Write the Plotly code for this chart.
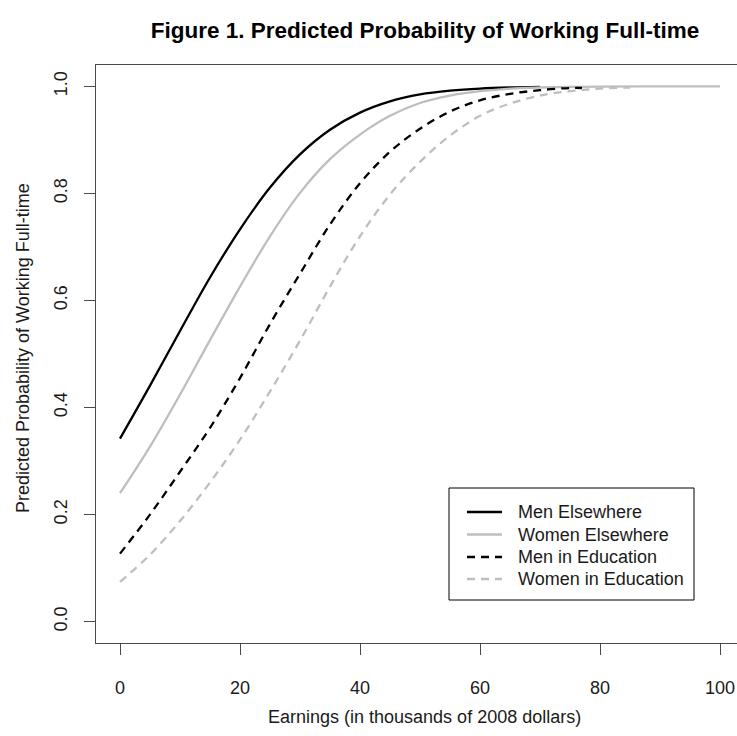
import plotly.graph_objects as go

# Earnings (thousands of 2008 dollars) and predicted probabilities
x_men_else = [0, 5, 10, 15, 20, 25, 30, 35, 40, 45, 50, 55, 60, 65, 70]
y_men_else = [0.342, 0.441, 0.543, 0.643, 0.733, 0.811, 0.873, 0.919, 0.951, 0.972,
              0.985, 0.992, 0.996, 0.998, 0.999]

x_women_else = [0, 5, 10, 15, 20, 25, 30, 35, 40, 45, 50, 55, 60, 65, 70, 75, 80, 90, 100]
y_women_else = [0.240, 0.327, 0.424, 0.526, 0.626, 0.720, 0.801, 0.864, 0.910, 0.945,
                0.969, 0.983, 0.991, 0.996, 0.998, 0.999, 0.9995, 1.0, 1.0]

x_men_edu = [0, 5, 10, 15, 20, 25, 30, 35, 40, 45, 50, 55, 60, 65, 70, 75, 77]
y_men_edu = [0.127, 0.200, 0.280, 0.362, 0.455, 0.556, 0.650, 0.742, 0.819, 0.878,
             0.921, 0.953, 0.974, 0.986, 0.993, 0.997, 0.997]

x_women_edu = [0, 5, 10, 15, 20, 25, 30, 35, 40, 45, 50, 55, 60, 65, 70, 75, 80, 85]
y_women_edu = [0.074, 0.125, 0.188, 0.260, 0.340, 0.430, 0.525, 0.626, 0.720, 0.798,
               0.859, 0.908, 0.945, 0.968, 0.983, 0.991, 0.996, 0.998]

series_names = ["Men Elsewhere", "Women Elsewhere", "Men in Education", "Women in Education"]
series_colors = ["#000000", "#bebebe", "#000000", "#bebebe"]
series_dash = ["solid", "solid", "8px,6px", "8px,6px"]

x_tick_vals = [0, 20, 40, 60, 80, 100]
y_tick_vals = [0.0, 0.2, 0.4, 0.6, 0.8, 1.0]
y_tick_text = ["0.0", "0.2", "0.4", "0.6", "0.8", "1.0"]

FONT = "Liberation Sans, Arial, sans-serif"
TXT = "#1a1a1a"
AX = "#4a4a4a"
FS = 18

fig = go.Figure()
data = [(x_men_else, y_men_else), (x_women_else, y_women_else),
        (x_men_edu, y_men_edu), (x_women_edu, y_women_edu)]
for (xs, ys), name, col, dash in zip(data, series_names, series_colors, series_dash):
    fig.add_trace(go.Scatter(x=xs, y=ys, mode="lines", name=name,
                             line=dict(color=col, width=2.3, dash=dash, shape="spline"),
                             showlegend=False))

# Manual legend box (paper coordinates)
L, R = 96, 737
T, B = 65, 643
W, H = R - L, B - T
def px(xp):
    return (xp - L) / W
def py(yp):
    return (B - yp) / H

shapes = [dict(type="rect", xref="paper", yref="paper",
               x0=px(449), x1=px(694), y0=py(600), y1=py(488),
               line=dict(color="#000000", width=1), fillcolor="white", layer="above")]
row_y = [512, 534.5, 557, 579]
annotations = []
for yy, name, col, dash in zip(row_y, series_names, series_colors, series_dash):
    shapes.append(dict(type="line", xref="paper", yref="paper",
                       x0=px(467), x1=px(502), y0=py(yy), y1=py(yy),
                       line=dict(color=col, width=2.3, dash=dash), layer="above"))
    annotations.append(dict(xref="paper", yref="paper", x=px(516), y=py(yy),
                            text=name, showarrow=False, xanchor="left", yanchor="middle",
                            font=dict(family=FONT, size=FS, color=TXT)))

annotations.append(dict(xref="paper", yref="paper", x=px(424), y=py(717),
                        text="Earnings (in thousands of 2008 dollars)", showarrow=False,
                        xanchor="center", yanchor="middle",
                        font=dict(family=FONT, size=FS, color=TXT)))
annotations.append(dict(xref="paper", yref="paper", x=px(23), y=py(348),
                        text="Predicted Probability of Working Full-time", showarrow=False,
                        textangle=-90, xanchor="center", yanchor="middle",
                        font=dict(family=FONT, size=FS, color=TXT)))

fig.update_layout(
    width=737, height=736,
    margin=dict(l=L, r=737 - R, t=T, b=736 - B, autoexpand=False),
    paper_bgcolor="white", plot_bgcolor="white",
    title=dict(text="Figure 1. Predicted Probability of Working Full-time",
               x=425 / 737, xanchor="center", y=1 - 30 / 736, yanchor="middle",
               font=dict(family=FONT, size=22.5, color="#000000", weight="bold")),
    shapes=shapes, annotations=annotations,
    showlegend=False,
)
fig.update_xaxes(range=[-4, -4 + W / 6.0], tickvals=x_tick_vals, automargin=False,
                 ticks="outside", ticklen=11, tickcolor=AX, tickwidth=1,
                 showline=True, linecolor=AX, linewidth=1, mirror=True,
                 showgrid=False, zeroline=False, ticklabelstandoff=17,
                 tickfont=dict(family=FONT, size=FS, color=TXT))
fig.update_yaxes(range=[-0.04, 1.04], tickvals=y_tick_vals, ticktext=y_tick_text,
                 automargin=False,
                 ticks="outside", ticklen=11, tickcolor=AX, tickwidth=1,
                 showline=True, linecolor=AX, linewidth=1, mirror=False,
                 showgrid=False, zeroline=False, tickangle=-90, ticklabelstandoff=10,
                 tickfont=dict(family=FONT, size=FS, color=TXT))

fig.write_html("out.html", config={"displayModeBar": False},
               post_script="document.body.style.margin='0px';document.body.style.overflow='hidden';")
